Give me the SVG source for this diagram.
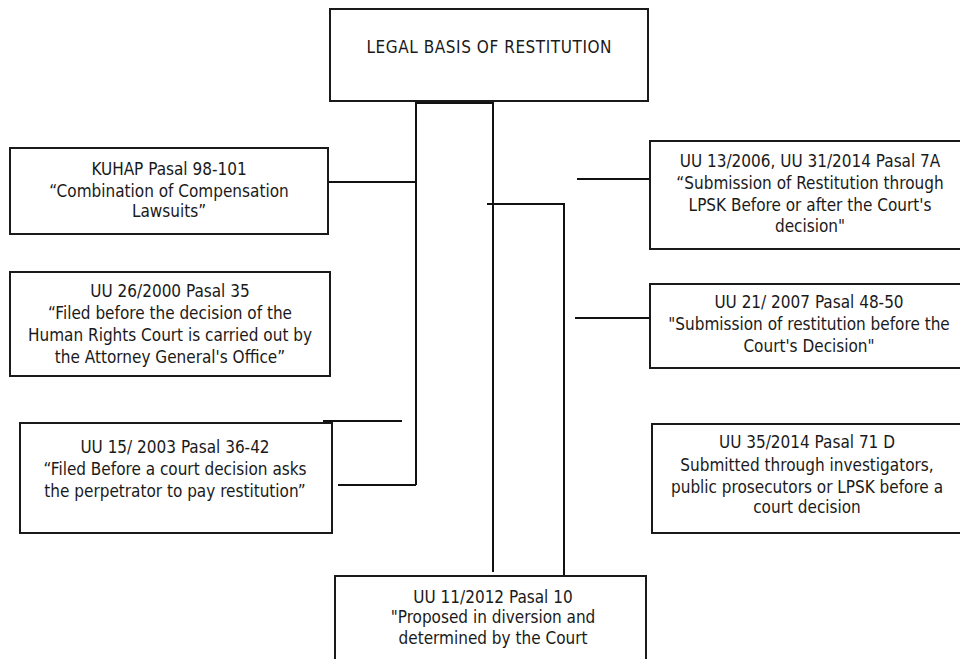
<svg xmlns="http://www.w3.org/2000/svg" width="960" height="659" viewBox="0 0 960 659">
<style>
.box{fill:#fff;stroke:#1a1a1a;stroke-width:2}
.t{font-family:"DejaVu Sans Condensed","DejaVu Sans",sans-serif;font-size:17px;fill:#1a1a1a;text-anchor:middle}
.c{fill:none;stroke:#111;stroke-width:2}
</style>
<rect width="960" height="659" fill="#fff"/>
<g id="connectors">
<polyline class="c" points="416,485 416,103 493,103 493,572"/>
<polyline class="c" points="487,204 564,204 564,576"/>
<line class="c" x1="328" y1="182" x2="416" y2="182"/>
<line class="c" x1="323" y1="421" x2="402" y2="421"/>
<line class="c" x1="338" y1="485" x2="416" y2="485"/>
<line class="c" x1="577" y1="179" x2="650" y2="179"/>
<line class="c" x1="575" y1="318" x2="650" y2="318"/>
</g>
<g id="root">
<rect class="box" x="330" y="9" width="318" height="92"/>
<text class="t" x="489" y="53" textLength="245" lengthAdjust="spacing">LEGAL BASIS OF RESTITUTION</text>
</g>
<g id="kuhap">
<rect class="box" x="10" y="148" width="318" height="86"/>
<text class="t" x="169" y="175">KUHAP Pasal 98-101</text>
<text class="t" x="169" y="197">“Combination of Compensation</text>
<text class="t" x="169" y="217">Lawsuits”</text>
</g>
<g id="uu26">
<rect class="box" x="10" y="272" width="320" height="104"/>
<text class="t" x="170" y="297">UU 26/2000 Pasal 35</text>
<text class="t" x="170" y="319">“Filed before the decision of the</text>
<text class="t" x="170" y="341">Human Rights Court is carried out by</text>
<text class="t" x="170" y="363">the Attorney General's Office”</text>
</g>
<g id="uu15">
<rect class="box" x="20" y="423" width="312" height="110"/>
<text class="t" x="175" y="453">UU 15/ 2003 Pasal 36-42</text>
<text class="t" x="175" y="475">“Filed Before a court decision asks</text>
<text class="t" x="175" y="497">the perpetrator to pay restitution”</text>
</g>
<g id="uu13">
<rect class="box" x="650" y="141" width="320" height="108"/>
<text class="t" x="810" y="167">UU 13/2006, UU 31/2014 Pasal 7A</text>
<text class="t" x="810" y="189">“Submission of Restitution through</text>
<text class="t" x="810" y="211">LPSK Before or after the Court's</text>
<text class="t" x="810" y="232">decision"</text>
</g>
<g id="uu21">
<rect class="box" x="650" y="284" width="320" height="84"/>
<text class="t" x="809" y="308">UU 21/ 2007 Pasal 48-50</text>
<text class="t" x="809" y="330">"Submission of restitution before the</text>
<text class="t" x="809" y="352">Court's Decision"</text>
</g>
<g id="uu35">
<rect class="box" x="652" y="424" width="320" height="109"/>
<text class="t" x="807" y="448">UU 35/2014 Pasal 71 D</text>
<text class="t" x="807" y="471">Submitted through investigators,</text>
<text class="t" x="807" y="493">public prosecutors or LPSK before a</text>
<text class="t" x="807" y="513">court decision</text>
</g>
<g id="uu11">
<rect class="box" x="335" y="576" width="311" height="100"/>
<text class="t" x="493" y="603">UU 11/2012 Pasal 10</text>
<text class="t" x="493" y="623">"Proposed in diversion and</text>
<text class="t" x="493" y="644">determined by the Court</text>
</g>
</svg>
